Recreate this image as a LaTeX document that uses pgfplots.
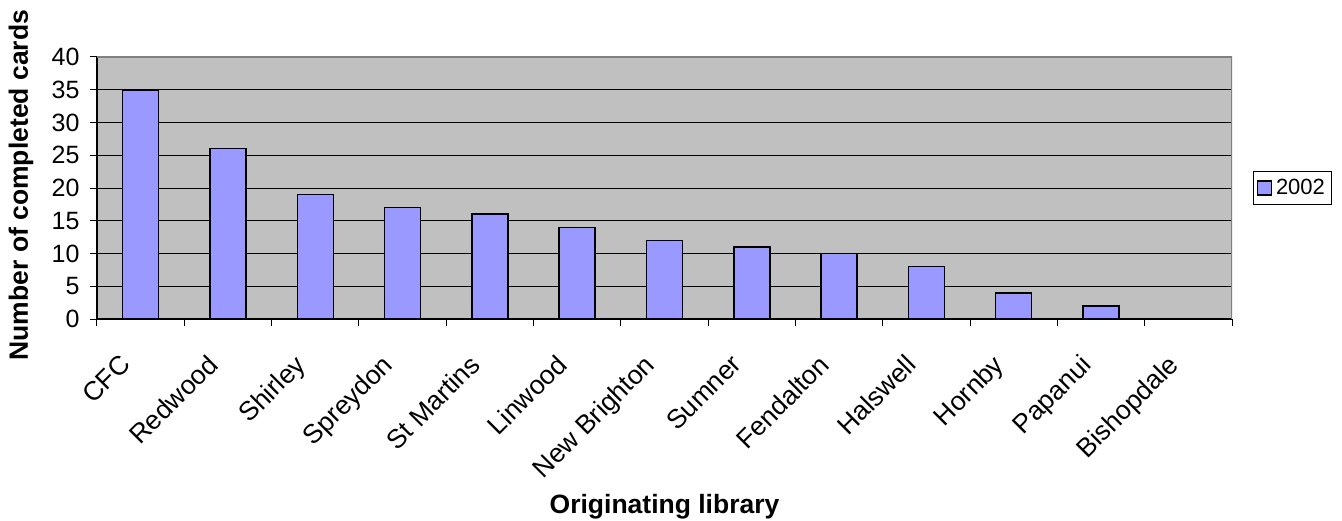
\documentclass[border=0pt]{standalone}
\usepackage{fontspec}
\setmainfont{Liberation Sans}
\usepackage{pgfplots}
\pgfplotsset{compat=1.18}

\definecolor{plotbg}{HTML}{C0C0C0}
\definecolor{barfill}{HTML}{9999FF}
\definecolor{frame}{HTML}{808080}

\newcommand{\bigfont}{\fontsize{25}{28}\selectfont}
\newcommand{\catfont}{\fontsize{26.5}{30}\selectfont}
\newcommand{\titlefont}{\fontsize{26.5}{30}\selectfont}

\begin{document}
\begin{tikzpicture}
\useasboundingbox (0,0) rectangle (1342pt,520pt);
\begin{axis}[
    at={(97pt,201pt)}, anchor=south west,
    scale only axis,
    width=1135pt, height=262pt,
    ybar, bar width=36pt,
    xmin=-0.5, xmax=12.5,
    ymin=0, ymax=40,
    ytick={0,5,...,40},
    xtick={0,...,12},
    xticklabels={CFC,Redwood,Shirley,Spreydon,St Martins,Linwood,New Brighton,Sumner,Fendalton,Halswell,Hornby,Papanui,Bishopdale},
    minor xtick={-0.5,0.5,...,12.5},
    major x tick style={draw=none},
    tick align=outside,
    major tick length=7pt, minor tick length=7pt,
    tick style={black, line width=1pt},
    axis x line*=bottom, axis y line*=left,
    axis line style={-, black, line width=1.2pt},
    axis background/.style={fill=plotbg},
    ymajorgrids, grid style={black, line width=1pt},
    /pgf/number format/assume math mode=true,
    ticklabel style={font=\bigfont},
    y tick label style={xshift=-7pt},
    x tick label style={font=\catfont, xshift=-22pt, yshift=-24pt, rotate=45, anchor=north east, inner sep=2pt},
    xlabel={\textbf{Originating library}},
    ylabel={\textbf{Number of completed cards}},
    xlabel style={at={(axis description cs:0.5,-0.744)}, anchor=base, font=\titlefont},
    ylabel style={at={(axis description cs:-0.0608,0.511)}, anchor=base, font=\titlefont},
    legend style={at={(axis description cs:1.0185,0.5)}, anchor=west,
        draw=black, line width=1pt, fill=white, inner xsep=3pt, inner ysep=5pt,
        nodes={inner xsep=4pt, inner ysep=3pt},
        font=\fontsize{22}{25}\selectfont},
    legend image code/.code={\draw[#1, line width=1.5pt] (0pt,-7pt) rectangle (14pt,7pt);},
]
\addplot[fill=barfill, draw=black, line width=1.5pt] coordinates {
    (0,35) (1,26) (2,19) (3,17) (4,16) (5,14) (6,12)
    (7,11) (8,10) (9,8) (10,4) (11,2) (12,0)
};
\addlegendentry{2002}
\draw[frame, line width=1.5pt] (rel axis cs:0,1) -- (rel axis cs:1,1) -- (rel axis cs:1,0);
\end{axis}
\end{tikzpicture}
\end{document}
